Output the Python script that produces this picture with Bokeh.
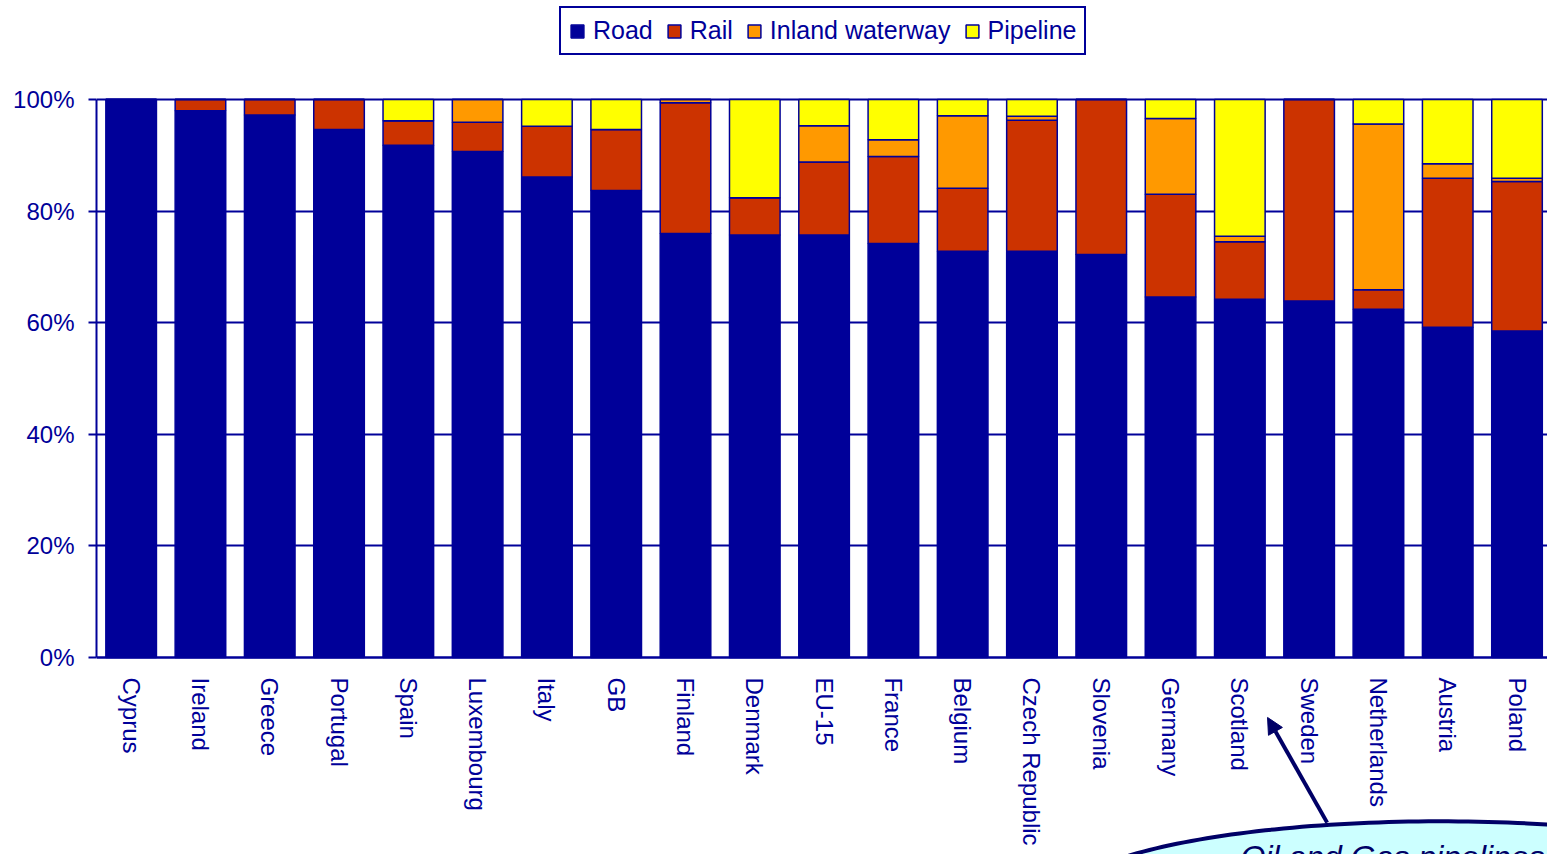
import math
import numpy as np
from bokeh.plotting import figure
from bokeh.models import (ColumnDataSource, Range1d, FixedTicker, PrintfTickFormatter,
                          Legend, LegendItem, Arrow, NormalHead)
from bokeh.core.properties import value
from bokeh.embed import file_html
from bokeh.resources import INLINE

# ---------------- data ----------------
countries = ["Cyprus", "Ireland", "Greece", "Portugal", "Spain", "Luxembourg", "Italy",
             "GB", "Finland", "Denmark", "EU-15", "France", "Belgium", "Czech Republic",
             "Slovenia", "Germany", "Scotland", "Sweden", "Netherlands", "Austria", "Poland"]
road     = [100.0, 98.0, 97.2, 94.6, 91.8, 90.7, 86.1, 83.7, 76.0, 75.7, 75.7, 74.2, 72.8, 72.8,
            72.2, 64.6, 64.2, 63.9, 62.4, 59.2, 58.5]
rail     = [0.0, 2.0, 2.8, 5.4, 4.4, 5.2, 9.1, 10.9, 23.4, 6.7, 13.1, 15.6, 11.3, 23.5,
            27.8, 18.4, 10.3, 36.1, 3.5, 26.7, 26.8]
inland   = [0.0, 0.0, 0.0, 0.0, 0.0, 4.1, 0.0, 0.0, 0.6, 0.0, 6.5, 3.0, 13.0, 0.7,
            0.0, 13.6, 1.0, 0.0, 29.7, 2.6, 0.6]
pipeline = [0.0, 0.0, 0.0, 0.0, 3.8, 0.0, 4.8, 5.4, 0.0, 17.6, 4.7, 7.2, 2.9, 3.0,
            0.0, 3.4, 24.5, 0.0, 4.4, 11.5, 14.1]
modes = ["Road", "Rail", "Inland waterway", "Pipeline"]
y_ticks = [0, 20, 40, 60, 80, 100]
callout_text = "Oil and Gas pipelines"

# ---------------- styles ----------------
NAVY = "#000099"
DARK = "#000066"
colors = ["#000099", "#CC3300", "#FF9900", "#FFFF00"]
FONT = "Liberation Sans"

x = [i + 0.5 for i in range(len(countries))]
src = ColumnDataSource(dict(x=x, Road=road, Rail=rail, Inland=inland, Pipeline=pipeline))

p = figure(width=1547, height=854, output_backend="svg", toolbar_location=None,
           x_range=Range1d(0, 20.94), y_range=Range1d(-35.31, 117.74),
           min_border_left=96, min_border_right=0, min_border_top=0, min_border_bottom=0)
p.outline_line_color = None
p.background_fill_color = "white"
p.border_fill_color = "white"

renderers = p.vbar_stack(["Road", "Rail", "Inland", "Pipeline"], x="x", width=0.73,
                         fill_color=colors, line_color=NAVY, line_width=1.5, source=src)

# grid
p.xgrid.visible = False
p.ygrid.ticker = FixedTicker(ticks=y_ticks)
p.ygrid.grid_line_color = NAVY
p.ygrid.grid_line_width = 2

# y axis
ya = p.yaxis[0]
ya.ticker = FixedTicker(ticks=y_ticks)
ya.formatter = PrintfTickFormatter(format="%d%%")
ya.bounds = (0, 100)
ya.axis_line_color = NAVY
ya.axis_line_width = 2
ya.major_tick_line_color = NAVY
ya.major_tick_line_width = 2
ya.major_tick_out = 8
ya.major_tick_in = 0
ya.minor_tick_line_color = None
ya.major_label_text_font = FONT
ya.major_label_text_font_size = "24px"
ya.major_label_text_color = NAVY
ya.major_label_standoff = 14

# x axis at 0
xa = p.xaxis[0]
xa.fixed_location = 0
xa.ticker = FixedTicker(ticks=x)
xa.major_label_overrides = {xv: c for xv, c in zip(x, countries)}
xa.major_label_orientation = -math.pi / 2
xa.axis_line_color = NAVY
xa.axis_line_width = 2
xa.major_tick_line_color = None
xa.major_tick_out = 0
xa.major_tick_in = 0
xa.minor_tick_line_color = None
xa.major_label_text_font = FONT
xa.major_label_text_font_size = "24px"
xa.major_label_text_color = NAVY
xa.major_label_standoff = 20

# legend (inside the frame, above the 100% line)
legend = Legend(items=[LegendItem(label=m, renderers=[r]) for m, r in zip(modes, renderers)],
                orientation="horizontal", location=(463, 799), margin=0, padding=8,
                spacing=13, label_standoff=8, glyph_width=16, glyph_height=16,
                label_text_font=FONT, label_text_font_size="25px", label_text_color=NAVY,
                border_line_color=NAVY, border_line_width=2, border_line_alpha=1.0,
                background_fill_color="white", background_fill_alpha=1.0)
p.add_layout(legend)

# callout
CX, CY, A, B = 19.40, -43.7, 5.48, 14.34
t = np.linspace(0, 2 * np.pi, 240)
p.patch(CX + A * np.cos(t), CY + B * np.sin(t), fill_color="#CCFFFF",
        line_color=DARK, line_width=4)
p.text(x=[16.51], y=[-32.6], text=[callout_text], text_font=value(FONT),
       text_font_style="italic", text_font_size="32px", text_color=DARK,
       text_baseline="top", text_align="left")
p.add_layout(Arrow(end=NormalHead(size=16, fill_color=DARK, line_color=DARK),
                   x_start=17.76, y_start=-29.6, x_end=16.90, y_end=-10.75,
                   line_color=DARK, line_width=4))

open("out.html", "w").write(file_html(p, INLINE))
